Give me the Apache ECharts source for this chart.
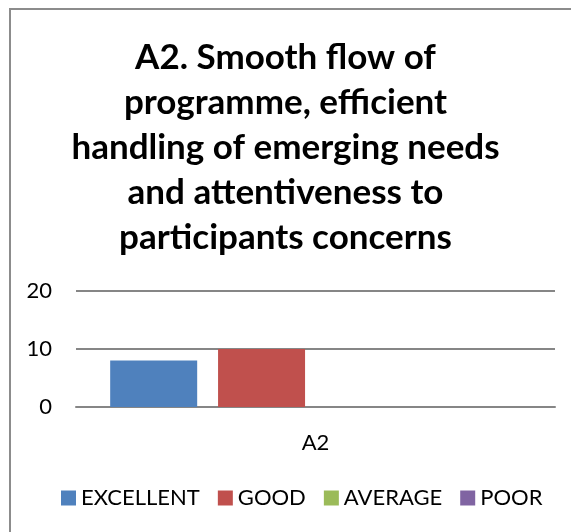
<!DOCTYPE html>
<html>
<head>
<meta charset="utf-8">
<script src="https://cdn.jsdelivr.net/npm/echarts@6/dist/echarts.min.js"></script>
<style>
  html, body { margin: 0; padding: 0; background: #fff; }
  #chart { width: 571px; height: 532px; }
</style>
</head>
<body>
<div id="chart"></div>
<script>
// 数据
const categories = ['A2'];
const seriesNames = ['EXCELLENT', 'GOOD', 'AVERAGE', 'POOR'];
const excellent = [8];
const good = [10];
const average = [0];
const poor = [0];
const colors = ['#4F81BD', '#C0504D', '#9BBB59', '#8064A2'];

const titleText = 'A2. Smooth flow of\nprogramme, efficient\nhandling of emerging needs\nand attentiveness to\nparticipants concerns';
const font = 'Lato, "Open Sans", sans-serif';

let chart = echarts.init(document.getElementById('chart'));

function bar(name, data, color) {
    return {
        name: name,
        type: 'bar',
        data: data,
        barWidth: 87,
        barGap: '24%',
        itemStyle: {color: color}
    };
}

let option = {
    animation: false,
    title: {
        text: titleText,
        left: 'center',
        top: 30,
        textStyle: {
            fontFamily: font,
            fontSize: 35,
            fontWeight: 'bold',
            lineHeight: 45,
            color: '#000'
        }
    },
    // 外框，只露出上边和左边
    graphic: [{
        type: 'rect',
        shape: {x: 10, y: 9, width: 700, height: 700},
        style: {fill: 'none', stroke: '#8c8c8c', lineWidth: 2}
    }],
    legend: {
        bottom: 18,
        left: 56,
        itemWidth: 15,
        itemHeight: 15,
        itemGap: 18,
        icon: 'rect',
        textStyle: {fontFamily: font, fontSize: 22, color: '#000'},
        data: seriesNames
    },
    grid: {
        left: 76,
        right: 16,
        top: 291,
        bottom: 125
    },
    xAxis: {
        type: 'category',
        data: categories,
        axisLine: {lineStyle: {color: '#868686', width: 2}},
        axisTick: {show: false},
        axisLabel: {fontFamily: font, fontSize: 22, color: '#000', margin: 25}
    },
    yAxis: {
        type: 'value',
        min: 0,
        max: 20,
        interval: 10,
        axisLine: {show: false},
        axisTick: {show: false},
        splitLine: {lineStyle: {color: '#868686', width: 2}},
        axisLabel: {fontFamily: font, fontSize: 22, color: '#000', margin: 24}
    },
    series: [
        bar(seriesNames[0], excellent, colors[0]),
        bar(seriesNames[1], good, colors[1]),
        bar(seriesNames[2], average, colors[2]),
        bar(seriesNames[3], poor, colors[3])
    ]
};

chart.setOption(option);
</script>
</body>
</html>
